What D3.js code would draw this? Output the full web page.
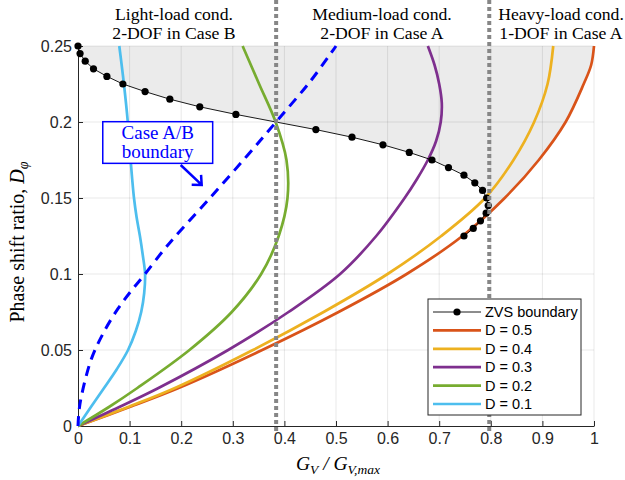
<!DOCTYPE html>
<html>
<head>
    <meta charset="utf-8">
    <title>ZVS range vs load</title>
    <script src="https://cdn.jsdelivr.net/npm/d3@7"></script>
    <style>
        body { margin: 0; background: #fff; }
    </style>
</head>
<body>
<svg></svg>
<script>
    const width = 625;
    const height = 480;
    const padding = { top: 46, bottom: 54, left: 78, right: 31 };

    // tick values
    const xTicks = [0, 0.1, 0.2, 0.3, 0.4, 0.5, 0.6, 0.7, 0.8, 0.9, 1];
    const yTicks = [0, 0.05, 0.1, 0.15, 0.2, 0.25];

    // [G_V / G_V,max , D_phi]
    const zvsBoundary = [
        [0.000, 0.250], [0.004, 0.245], [0.014, 0.240], [0.030, 0.235], [0.056, 0.230],
        [0.087, 0.225], [0.130, 0.220], [0.178, 0.215], [0.236, 0.210], [0.306, 0.205],
        [0.461, 0.195], [0.531, 0.190], [0.591, 0.185], [0.642, 0.180], [0.686, 0.175],
        [0.718, 0.170], [0.748, 0.165], [0.769, 0.160], [0.784, 0.155], [0.792, 0.150],
        [0.795, 0.145], [0.791, 0.140], [0.780, 0.135], [0.766, 0.130], [0.748, 0.125]
    ];
    const d05 = [
        [0, 0], [0.100, 0.0125], [0.195, 0.025], [0.357, 0.05], [0.505, 0.075],
        [0.637, 0.1], [0.745, 0.125], [0.827, 0.15], [0.893, 0.175], [0.945, 0.2],
        [0.980, 0.225], [0.9945, 0.2375], [1.0, 0.25]
    ];
    const d04 = [
        [0, 0], [0.097, 0.0125], [0.188, 0.025], [0.339, 0.05], [0.476, 0.075],
        [0.600, 0.1], [0.704, 0.125], [0.789, 0.15], [0.844, 0.175], [0.884, 0.2],
        [0.910, 0.225], [0.921, 0.25]
    ];
    const d03 = [
        [0, 0], [0.080, 0.0125], [0.156, 0.025], [0.291, 0.05], [0.408, 0.075],
        [0.508, 0.1], [0.578, 0.125], [0.633, 0.15], [0.657, 0.1625], [0.678, 0.175],
        [0.694, 0.1875], [0.703, 0.2], [0.705, 0.2125], [0.700, 0.225], [0.691, 0.2375],
        [0.678, 0.25]
    ];
    const d02 = [
        [0, 0], [0.060, 0.0125], [0.115, 0.025], [0.216, 0.05], [0.298, 0.075],
        [0.355, 0.1], [0.389, 0.125], [0.406, 0.15], [0.404, 0.175], [0.383, 0.2],
        [0.351, 0.225], [0.319, 0.25]
    ];
    const d01 = [
        [0, 0], [0.025, 0.0125], [0.0505, 0.025], [0.0755, 0.0375], [0.097, 0.05],
        [0.112, 0.0625], [0.1225, 0.075], [0.1283, 0.0875], [0.130, 0.1], [0.1255, 0.1125],
        [0.120, 0.125], [0.1135, 0.1375], [0.1085, 0.15], [0.105, 0.1625], [0.102, 0.175],
        [0.0965, 0.2], [0.089, 0.225], [0.080, 0.25]
    ];
    const caseBoundary = [
        [0, 0], [0.002, 0.010], [0.0064, 0.0193], [0.0258, 0.044], [0.0517, 0.0628],
        [0.0775, 0.0772], [0.1033, 0.0890], [0.1293, 0.0997], [0.1647, 0.1152], [0.188, 0.1245],
        [0.2558, 0.150], [0.327, 0.1775], [0.385, 0.2005], [0.4496, 0.2265], [0.4948, 0.2475],
        [0.500, 0.25]
    ];
    const regionLimits = [0.384, 0.797];
    const regionTitles = [
        ["Light-load cond.", "2-DOF in Case B"],
        ["Medium-load cond.", "2-DOF in Case A"],
        ["Heavy-load cond.", "1-DOF in Case A"]
    ];
    const seriesNames = ["D = 0.5", "D = 0.4", "D = 0.3", "D = 0.2", "D = 0.1"];
    const seriesData = [d05, d04, d03, d02, d01];
    const seriesColors = ["#D95319", "#EDB120", "#7E2F8E", "#77AC30", "#4DBEEE"];

    const innerW = width - padding.left - padding.right;
    const innerH = height - padding.top - padding.bottom;

    let svg = d3.select("svg")
        .attr("width", width)
        .attr("height", height);

    let g = svg.append("g")
        .attr("transform", "translate(" + padding.left + "," + padding.top + ")");

    let xScale = d3.scaleLinear().domain([0, 1]).range([0, innerW]);
    let yScale = d3.scaleLinear().domain([0, 0.25]).range([innerH, 0]);

    let linePath = d3.line()
        .x(d => xScale(d[0]))
        .y(d => yScale(d[1]));
    let smoothPath = d3.line()
        .x(d => xScale(d[0]))
        .y(d => yScale(d[1]))
        .curve(d3.curveCatmullRom.alpha(0.5));

    // shaded ZVS region: above the ZVS boundary and the D = 0.5 curve
    let cut = zvsBoundary.findIndex(d => d[1] <= 0.1401);
    let shade = zvsBoundary.slice(0, cut + 1)
        .concat(d05.filter(d => d[1] > 0.1405))
        .concat([[1, 0.25], [0, 0.25]]);
    g.append("path")
        .attr("d", linePath(shade) + "Z")
        .attr("fill", "#ebebeb");

    // grid
    g.append("g").selectAll("line")
        .data(xTicks.slice(1))
        .enter()
        .append("line")
        .attr("x1", d => xScale(d)).attr("x2", d => xScale(d))
        .attr("y1", 0).attr("y2", innerH)
        .attr("stroke", "#000").attr("stroke-opacity", 0.09);
    g.append("g").selectAll("line")
        .data(yTicks.slice(1))
        .enter()
        .append("line")
        .attr("x1", 0).attr("x2", innerW)
        .attr("y1", d => yScale(d)).attr("y2", d => yScale(d))
        .attr("stroke", "#000").attr("stroke-opacity", 0.09);

    const fmt = d => String(+d.toFixed(2));

    let xAxis = d3.axisBottom(xScale)
        .tickValues(xTicks).tickFormat(fmt)
        .tickSizeInner(-5).tickSizeOuter(0).tickPadding(7);
    let yAxis = d3.axisLeft(yScale)
        .tickValues(yTicks).tickFormat(fmt)
        .tickSizeInner(-5).tickSizeOuter(0).tickPadding(6);

    let gx = g.append("g")
        .attr("transform", "translate(0," + innerH + ")")
        .call(xAxis);
    let gy = g.append("g").call(yAxis);
    [gx, gy].forEach(a => {
        a.attr("font-family", "'Liberation Sans', Arial, sans-serif").attr("font-size", 16);
        a.selectAll("path, line").attr("stroke", "#262626");
        a.selectAll("text").attr("fill", "#262626");
    });

    // D curves
    g.append("g").selectAll("path")
        .data(seriesData)
        .enter()
        .append("path")
        .attr("d", d => smoothPath(d))
        .attr("fill", "none")
        .attr("stroke", (d, i) => seriesColors[i])
        .attr("stroke-width", 2.7);

    // ZVS boundary
    g.append("path")
        .attr("d", linePath(zvsBoundary))
        .attr("fill", "none")
        .attr("stroke", "#000")
        .attr("stroke-width", 0.9);
    g.append("g").selectAll("circle")
        .data(zvsBoundary)
        .enter()
        .append("circle")
        .attr("cx", d => xScale(d[0]))
        .attr("cy", d => yScale(d[1]))
        .attr("r", 3.6)
        .attr("fill", "#000");

    // Case A/B boundary
    g.append("path")
        .attr("d", smoothPath(caseBoundary))
        .attr("fill", "none")
        .attr("stroke", "#0000ff")
        .attr("stroke-width", 3)
        .attr("stroke-dasharray", "10,7");

    // load region limits
    g.append("g").selectAll("line")
        .data(regionLimits)
        .enter()
        .append("line")
        .attr("x1", d => xScale(d)).attr("x2", d => xScale(d))
        .attr("y1", -padding.top).attr("y2", innerH + 6)
        .attr("stroke", "#868686")
        .attr("stroke-width", 4)
        .attr("stroke-dasharray", "4,3");

    // region titles
    const titleX = [96, 304, 483];
    svg.append("g").selectAll("text")
        .data(regionTitles)
        .enter()
        .append("text")
        .attr("font-family", "'Liberation Serif', 'Times New Roman', serif")
        .attr("font-size", 17.7)
        .attr("fill", "#000")
        .attr("text-anchor", "middle")
        .each(function (d, i) {
            d3.select(this).selectAll("tspan")
                .data(d)
                .enter()
                .append("tspan")
                .attr("x", padding.left + titleX[i])
                .attr("y", (t, j) => 20 + j * 19)
                .text(t => t);
        });

    // annotation
    let note = g.append("g");
    note.append("rect")
        .attr("x", xScale(0.048)).attr("y", yScale(0.2002))
        .attr("width", xScale(0.261) - xScale(0.048))
        .attr("height", yScale(0.1728) - yScale(0.2002))
        .attr("fill", "#fff")
        .attr("stroke", "#0000ff")
        .attr("stroke-width", 1.5);
    note.append("text")
        .attr("font-family", "'Liberation Serif', 'Times New Roman', serif")
        .attr("font-size", 19)
        .attr("fill", "#0000ff")
        .attr("text-anchor", "middle")
        .selectAll("tspan")
        .data(["Case A/B", "boundary"])
        .enter()
        .append("tspan")
        .attr("x", xScale(0.1545))
        .attr("y", (t, j) => yScale(0.2002) + 17 + j * 19)
        .text(t => t);
    let ax0 = [xScale(0.199), yScale(0.1717)];
    let ax1 = [xScale(0.2397), yScale(0.1586)];
    let ang = Math.atan2(ax1[1] - ax0[1], ax1[0] - ax0[0]);
    let head = [ang + Math.PI - 0.75, ang + Math.PI + 0.75]
        .map(a => [ax1[0] + 10 * Math.cos(a), ax1[1] + 10 * Math.sin(a)]);
    note.append("path")
        .attr("d", "M" + ax0 + "L" + ax1 + "M" + head[0] + "L" + ax1 + "L" + head[1])
        .attr("fill", "none")
        .attr("stroke", "#0000ff")
        .attr("stroke-width", 2.5);

    // legend
    let legend = svg.append("g").attr("transform", "translate(428,299)");
    legend.append("rect")
        .attr("width", 153).attr("height", 116)
        .attr("fill", "#fff")
        .attr("stroke", "#262626")
        .attr("stroke-width", 1);
    let names = ["ZVS boundary"].concat(seriesNames);
    let colors = ["#000"].concat(seriesColors);
    let rows = legend.selectAll("g.row")
        .data(names)
        .enter()
        .append("g")
        .attr("class", "row")
        .attr("transform", (d, i) => "translate(0," + (13 + i * 18.4) + ")");
    rows.append("line")
        .attr("x1", 5).attr("x2", 53)
        .attr("stroke", (d, i) => colors[i])
        .attr("stroke-width", (d, i) => i === 0 ? 0.9 : 2.7);
    rows.filter((d, i) => i === 0)
        .append("circle")
        .attr("cx", 29).attr("r", 3.6).attr("fill", "#000");
    rows.append("text")
        .attr("x", 57)
        .attr("dy", "0.35em")
        .attr("font-family", "'Liberation Sans', Arial, sans-serif")
        .attr("font-size", 14.5)
        .attr("fill", "#000")
        .text(d => d);

    // axis labels
    let xl = svg.append("text")
        .attr("x", padding.left + innerW / 2 + 2)
        .attr("y", 470)
        .attr("text-anchor", "middle")
        .attr("font-family", "'Liberation Serif', 'Times New Roman', serif")
        .attr("font-style", "italic")
        .attr("font-size", 19.5)
        .attr("fill", "#000");
    xl.append("tspan").text("G");
    xl.append("tspan").attr("dy", 4).attr("font-size", 13.5).text("V");
    xl.append("tspan").attr("dy", -4).text(" / G");
    xl.append("tspan").attr("dy", 4).attr("font-size", 13.5).text("V,max");

    let yl = svg.append("text")
        .attr("transform", "translate(24," + (padding.top + innerH / 2 + 6) + ") rotate(-90)")
        .attr("text-anchor", "middle")
        .attr("font-family", "'Liberation Serif', 'Times New Roman', serif")
        .attr("font-size", 20)
        .attr("fill", "#000");
    yl.append("tspan").text("Phase shift ratio, ");
    yl.append("tspan").attr("font-style", "italic").text("D");
    yl.append("tspan").attr("dy", 4).attr("font-size", 14).attr("font-style", "italic").text("φ");
</script>
</body>
</html>
